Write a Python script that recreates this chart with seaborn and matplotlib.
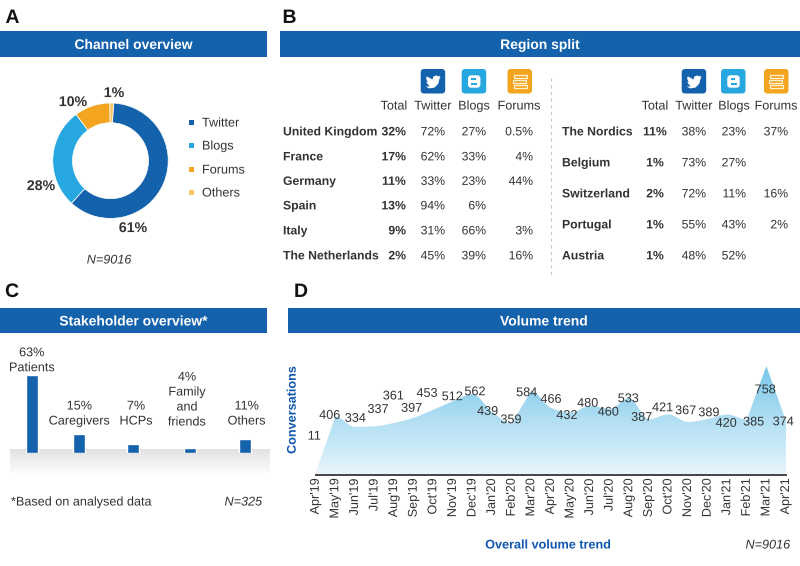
import matplotlib
matplotlib.use("Agg")
import matplotlib.patheffects as pe
import matplotlib.pyplot as plt
import numpy as np
import pandas as pd
import seaborn as sns
from matplotlib.patches import FancyBboxPatch, PathPatch, Polygon, Rectangle
from matplotlib.path import Path

# panel A
channels = ["Twitter", "Blogs", "Forums", "Others"]
channel_share = [61, 28, 10, 1]

# panel B
columns = ["Total", "Twitter", "Blogs", "Forums"]
left_regions = ["United Kingdom", "France", "Germany", "Spain", "Italy", "The Netherlands"]
left_total = ["32%", "17%", "11%", "13%", "9%", "2%"]
left_twitter = ["72%", "62%", "33%", "94%", "31%", "45%"]
left_blogs = ["27%", "33%", "23%", "6%", "66%", "39%"]
left_forums = ["0.5%", "4%", "44%", "", "3%", "16%"]
right_regions = ["The Nordics", "Belgium", "Switzerland", "Portugal", "Austria"]
right_total = ["11%", "1%", "2%", "1%", "1%"]
right_twitter = ["38%", "73%", "72%", "55%", "48%"]
right_blogs = ["23%", "27%", "11%", "43%", "52%"]
right_forums = ["37%", "", "16%", "2%", ""]

# panel C
stakeholders = ["Patients", "Caregivers", "HCPs", "Family\nand\nfriends", "Others"]
stakeholder_share = [63, 15, 7, 4, 11]

# panel D
months = ["Apr'19", "May'19", "Jun'19", "Jul'19", "Aug'19", "Sep'19", "Oct'19", "Nov'19", "Dec'19",
          "Jan'20", "Feb'20", "Mar'20", "Apr'20", "May'20", "Jun'20", "Jul'20", "Aug'20", "Sep'20",
          "Oct'20", "Nov'20", "Dec'20", "Jan'21", "Feb'21", "Mar'21", "Apr'21"]
volume = [11, 406, 334, 337, 361, 397, 453, 512, 562, 439, 359, 584, 466, 432, 480, 460, 533, 387,
          421, 367, 389, 420, 385, 758, 374]

# where each volume label sits relative to its point, in pixels
label_dx = [-1.4, -5.6, 0.4, 3.5, -0.8, -2, -6.3, -0.6, 2.5, -4.4, -0.7, -4.6, 0.1, -3.5, -2.4, -1.4,
            -1, -7.2, -5.8, -2.4, 1.3, -1, 6.8, -1.2, -2.8]
label_dy = [37, 1.2, 8.5, 17, 27, 9.5, 16.4, 4.6, 2.4, 0.4, 3.5, -1.7, 8.6, -2.6, 2.6, -3.3, -0.4,
            1.9, 6.6, 11.4, 6.2, -8.8, -2.5, -23.7, -0.7]

BLUE = "#1461AC"
SKY = "#27A7DF"
ORANGE = "#F3A51F"
PALE = "#F9C668"
INK = "#333333"
TITLE_BLUE = "#1257AE"
W, H = 800, 566

sns.set_theme(style="white")
plt.rcParams["font.family"] = ["Liberation Sans", "DejaVu Sans"]
plt.rcParams["axes.facecolor"] = "none"
# draws text through its outline: even spacing and no baseline jitter at this small size
plt.rcParams["path.effects"] = [pe.Normal()]

fig = plt.figure(figsize=(8, 5.66), dpi=100, facecolor="white")


def px_axes(x0, y0, x1, y1):
    # axes placed by pixel box, y counted from the top of the figure
    return fig.add_axes([x0 / W, 1 - y1 / H, (x1 - x0) / W, (y1 - y0) / H])


bg = px_axes(0, 0, W, H)
bg.set_xlim(0, W)
bg.set_ylim(H, 0)
bg.axis("off")


def put(x, y, s, size=9.1, weight="normal", color=INK, ha="center", style="normal"):
    # y is the middle of the capitals, so a row keeps one baseline
    bg.text(x, y + 0.358 * size * 100 / 72, s, fontsize=size, fontweight=weight, color=color, ha=ha, va="baseline",
            fontstyle=style)


# header bars and panel letters
for x0, x1, y0, y1, title in [(0, 267, 31, 57, "Channel overview"), (280, 800, 31, 57, "Region split"),
                              (0, 267, 308, 333, "Stakeholder overview*"), (288, 800, 308, 333, "Volume trend")]:
    bg.add_patch(Rectangle((x0, y0), x1 - x0, y1 - y0, color=BLUE, lw=0))
    put((x0 + x1) / 2, (y0 + y1) / 2, title, size=10, weight="bold", color="white")
for x, y, s in [(12.5, 16, "A"), (289.5, 16, "B"), (12, 290, "C"), (301, 290, "D")]:
    put(x, y, s, size=14, weight="bold", color="#111111")

# A: donut
ax_a = px_axes(110.5 - 60, 160.7 - 60, 110.5 + 60, 160.7 + 60)
ax_a.pie(channel_share, colors=[BLUE, SKY, ORANGE, PALE], startangle=87, counterclock=False, radius=57.7 / 60,
         wedgeprops={"width": 19.7 / 60, "edgecolor": "white", "linewidth": 0.5})
ax_a.set_xlim(-1, 1)
ax_a.set_ylim(-1, 1)
for (x, y), v in zip([(133, 227), (41, 185), (73, 101), (114, 92)], channel_share):
    put(x, y, f"{v}%", size=10.2, weight="bold")
for name, col, y in zip(channels, [BLUE, SKY, ORANGE, PALE], [122, 145, 169, 192]):
    bg.add_patch(Rectangle((188.5, y - 2.5), 5, 5, color=col, lw=0))
    put(202, y, name, ha="left")
put(109, 259, "N=9016", style="italic")


# B: icons
def icon_box(x, y, col):
    bg.add_patch(FancyBboxPatch((x + 2, y + 2), 20.5, 20.5, boxstyle="round,pad=2,rounding_size=3.5", fc=col, ec="none"))


def twitter_icon(x, y):
    icon_box(x, y, BLUE)
    bird = np.array([[5, 17.5], [9, 17.3], [7, 15.2], [5.6, 12.8], [7, 12.8], [5.3, 9.5], [6.2, 7.4], [11.8, 10.5],
                     [12.6, 7.6], [15.6, 6.4], [17.6, 7.4], [19.6, 6.6], [18.6, 8.6], [20, 8.4], [18.6, 10.3],
                     [17.6, 14.6], [13.8, 18.6], [8.5, 19.4]])
    bg.add_patch(Polygon(bird + [x, y], fc="white", ec="none"))


def blogger_icon(x, y):
    icon_box(x, y, SKY)
    bg.add_patch(FancyBboxPatch((x + 7.5, y + 7.5), 10, 10, boxstyle="round,pad=1.2,rounding_size=3", fc="white", ec="none"))
    bg.add_patch(Rectangle((x + 9.5, y + 9.4), 4.5, 1.5, color=SKY, lw=0))
    bg.add_patch(Rectangle((x + 9.5, y + 14), 6, 1.5, color=SKY, lw=0))


def forums_icon(x, y):
    icon_box(x, y, ORANGE)
    for off, y1 in [(6, 5.8), (5, 11), (6, 16)]:
        bg.add_patch(Rectangle((x + off, y + y1), 13, 3.2, fc="none", ec="#FFF3D8", lw=0.9))


for tw, bl, fo in [(420.7, 461.7, 507.5), (681.7, 721, 764)]:
    twitter_icon(tw, 69)
    blogger_icon(bl, 69)
    forums_icon(fo, 69)

# B: left table
for x, s in zip([394, 433, 474, 519], columns):
    put(x, 105, s)
for i, y in enumerate([131, 156, 180.5, 205, 230, 255]):
    put(283, y, left_regions[i], size=8.8, weight="bold", ha="left")
    put(406, y, left_total[i], size=8.8, weight="bold", ha="right")
    put(445, y, left_twitter[i], size=8.8, ha="right")
    put(486, y, left_blogs[i], size=8.8, ha="right")
    put(533, y, left_forums[i], size=8.8, ha="right")

bg.plot([551, 551], [78, 275], color="#C8C8C8", lw=0.8, ls=(0, (3, 3)))

# B: right table
for x, s in zip([655, 694, 734, 776], columns):
    put(x, 105, s)
for i, y in enumerate([131, 162, 193, 224, 255]):
    put(562, y, right_regions[i], size=8.8, weight="bold", ha="left")
    put(655, y, right_total[i], size=8.8, weight="bold")
    put(706, y, right_twitter[i], size=8.8, ha="right")
    put(746, y, right_blogs[i], size=8.8, ha="right")
    put(788, y, right_forums[i], size=8.8, ha="right")

# C: grey floor under the bars, then the bars
fade = np.linspace(0, 1, 40).reshape(-1, 1)
bg.imshow(fade, extent=(10, 270, 475, 449), cmap=sns.blend_palette(["#E2E2E2", "#FFFFFF"], as_cmap=True),
          aspect="auto", zorder=0)
bg.set_xlim(0, W)
bg.set_ylim(H, 0)

ax_c = px_axes(0, 360, 267, 452.7)
stake_x = [31.7, 78.7, 132.7, 190, 245]
stake_df = pd.DataFrame({"x": stake_x, "share": stakeholder_share})
sns.barplot(data=stake_df, x="x", y="share", native_scale=True, color=BLUE, saturation=1, width=12.3 / 47, ax=ax_c)
ax_c.set_xlim(0, 267)
ax_c.set_ylim(0, 92.7 / 1.23)
ax_c.axis("off")

put(31.7, 351.7, "63%")
put(32, 366.7, stakeholders[0])
put(79.3, 405, "15%")
put(79.3, 420, stakeholders[1])
put(136, 405, "7%")
put(136, 420, stakeholders[2])
put(187, 376, "4%")
for y, s in zip([391, 406, 421], stakeholders[3].split("\n")):
    put(187, y, s)
put(246.7, 405, "11%")
put(246.7, 420, stakeholders[4])
put(11, 501, "*Based on analysed data", ha="left")
put(262, 501, "N=325", ha="right", style="italic")

# D: smoothed area, steep jumps stay straight
ax_d = px_axes(315.7, 360, 786, 474.7)
idx = np.arange(len(volume))
vals = np.array(volume, dtype=float)
sns.lineplot(x=idx, y=vals, linewidth=0, ax=ax_d)
ax_d.set_xlim(0, 24)
ax_d.set_ylim(0, 800)

slope = np.diff(vals)
tang = np.zeros_like(vals)
for i in range(1, len(vals) - 1):
    if slope[i - 1] * slope[i] > 0:
        tang[i] = 2 * slope[i - 1] * slope[i] / (slope[i - 1] + slope[i])
verts = [(0, 0), (0, vals[0])]
codes = [Path.MOVETO, Path.LINETO]
for i in range(len(vals) - 1):
    if abs(slope[i]) > 200:
        verts.append((i + 1, vals[i + 1]))
        codes.append(Path.LINETO)
    else:
        verts += [(i + 1 / 3, vals[i] + tang[i] / 3), (i + 2 / 3, vals[i + 1] - tang[i + 1] / 3), (i + 1, vals[i + 1])]
        codes += [Path.CURVE4] * 3
verts += [(24, 0), (0, 0)]
codes += [Path.LINETO, Path.CLOSEPOLY]
area = PathPatch(Path(verts, codes), fc="none", ec="none", transform=ax_d.transData)
ax_d.add_patch(area)
grad = ax_d.imshow(np.linspace(1, 0, 100).reshape(-1, 1), extent=(0, 24, 0, 800), aspect="auto",
                   cmap=sns.blend_palette(["#EAF6FC", "#C8E9F7", "#B0DEF3", "#8FD0EE", "#78C6EA"], as_cmap=True),
                   zorder=1)
grad.set_clip_path(area)
ax_d.set_xlim(0, 24)
ax_d.set_ylim(0, 800)

for i, v in enumerate(volume):
    ax_d.annotate(str(v), xy=(i, v), xytext=(label_dx[i], label_dy[i] - 0.5), textcoords="offset pixels", ha="center",
                  va="center", fontsize=9.1, color=INK, zorder=3, annotation_clip=False)

sns.despine(ax=ax_d, left=True)
ax_d.spines["bottom"].set_color("#444444")
ax_d.spines["bottom"].set_linewidth(1.4)
ax_d.set_yticks([])
ax_d.set_xticks(idx)
ax_d.set_xticklabels(months, rotation=90, fontsize=9.1, color=INK)
ax_d.tick_params(axis="x", length=0, pad=2.5)
ax_d.set_xlabel("")
ax_d.set_ylabel("")

bg.text(292.7, 410, "Conversations", fontsize=9.1, fontweight="bold", color=TITLE_BLUE, rotation=90, ha="center", va="center")
put(548, 544, "Overall volume trend", weight="bold", color=TITLE_BLUE)
put(790, 544, "N=9016", ha="right", style="italic")

fig.savefig("out.png", dpi=100)
